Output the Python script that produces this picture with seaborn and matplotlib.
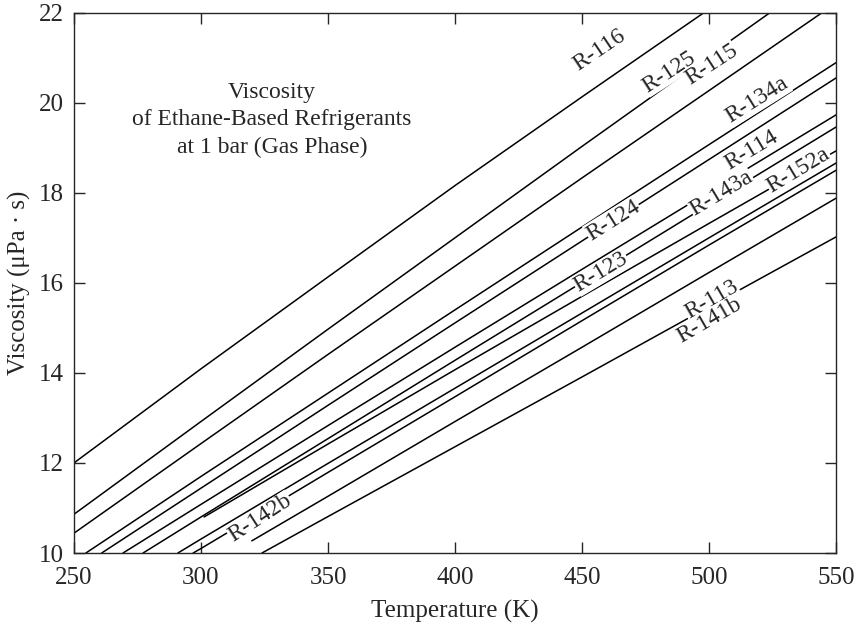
import numpy as np
import pandas as pd
import matplotlib
matplotlib.use("Agg")
import matplotlib.pyplot as plt
import seaborn as sns

# --- DATA ---
T_R116 = [250, 300, 350, 400, 450, 498]
V_R116 = [12.0, 14.09, 16.13, 18.16, 20.13, 22.0]

T_R125 = [250, 300, 350, 400, 450, 500, 524]
V_R125 = [10.86, 12.92, 14.97, 17.00, 19.03, 21.04, 22.0]

T_R115 = [250, 300, 350, 400, 450, 500, 544.5]
V_R115 = [10.44, 12.43, 14.41, 16.37, 18.33, 20.27, 22.0]

T_R134a = [254.7, 300, 350, 400, 450, 500, 550]
V_R134a = [10.0, 11.70, 13.55, 15.40, 17.24, 19.07, 20.89]

T_E = [260.9, 300, 350, 400, 450, 500, 550]
V_E = [10.0, 11.44, 13.28, 15.11, 16.93, 18.74, 20.55]

T_R114 = [269.3, 300, 350, 400, 450, 500, 550]
V_R114 = [10.0, 11.08, 12.83, 14.57, 16.30, 18.02, 19.73]

T_G = [277.2, 300, 350, 400, 450, 500, 550]
V_G = [10.0, 10.80, 12.54, 14.28, 16.01, 17.74, 19.46]

T_R123 = [301.2, 350, 400, 450, 500, 550]
V_R123 = [10.8, 12.42, 14.07, 15.70, 17.32, 18.93]

T_H = [290.9, 300, 350, 400, 450, 500, 550]
V_H = [10.0, 10.31, 11.99, 13.66, 15.33, 17.00, 18.66]

T_I = [296.9, 300, 350, 400, 450, 500, 550]
V_I = [10.0, 10.10, 11.79, 13.47, 15.16, 16.84, 18.50]

T_L = [320, 350, 400, 450, 500, 550]
V_L = [10.27, 11.26, 12.92, 14.57, 16.23, 17.88]

T_J = [324, 350, 400, 450, 500, 550]
V_J = [10.0, 10.81, 12.36, 13.91, 15.47, 17.02]

SERIES = [
    (T_R116, V_R116), (T_R125, V_R125), (T_R115, V_R115), (T_R134a, V_R134a),
    (T_E, V_E), (T_R114, V_R114), (T_G, V_G), (T_R123, V_R123),
    (T_H, V_H), (T_I, V_I), (T_L, V_L), (T_J, V_J),
]

# label text, x, y, rotation
LABELS = [
    ("R-116", 456.7, 21.17, 34),
    ("R-125", 484.3, 20.68, 33),
    ("R-115", 500.9, 20.84, 33),
    ("R-134a", 519.0, 20.06, 32),
    ("R-114", 516.7, 18.95, 31),
    ("R-152a", 535.2, 18.50, 31),
    ("R-143a", 504.8, 17.99, 31),
    ("R-124", 462.2, 17.39, 32),
    ("R-123", 457.5, 16.24, 31),
    ("R-113", 500.9, 15.62, 30),
    ("R-141b", 500.1, 15.17, 30),
    ("R-142b", 323.4, 10.77, 33),
]

sns.set_style("ticks")
plt.rcParams['font.family'] = ['Liberation Serif', 'DejaVu Serif']

fig = plt.figure(figsize=(8.62, 6.30), dpi=100)
ax = fig.add_axes([0.0858, 0.1222, 0.8842, 0.8578])

for t, v in SERIES:
    sns.lineplot(x=t, y=v, color='black', lw=1.1, ax=ax, sort=True)

for text, x, y, rot in LABELS:
    ax.text(x, y, text, rotation=rot, ha='center', va='center', fontsize=17,
            rotation_mode='anchor',
            bbox=dict(facecolor='white', edgecolor='none', pad=0.3))

ax.text(328, 19.62, "Viscosity\nof Ethane-Based Refrigerants\nat 1 bar (Gas Phase)",
        ha='center', va='center', fontsize=17, linespacing=1.4)

ax.set_xlim(250, 550)
ax.set_ylim(10, 22)
ax.set_xticks([250, 300, 350, 400, 450, 500, 550])
ax.set_yticks([10, 12, 14, 16, 18, 20, 22])
ax.tick_params(direction='in', length=8, width=1, top=True, right=True,
               labelsize=18, pad=7)
ax.tick_params(axis='x', pad=10)
for s in ax.spines.values():
    s.set_linewidth(1.0)

ax.set_xlabel("Temperature (K)", fontsize=18, labelpad=8)
ax.set_ylabel("Viscosity (μPa · s)", fontsize=18, labelpad=6)

fig.savefig("out.png", dpi=100)
